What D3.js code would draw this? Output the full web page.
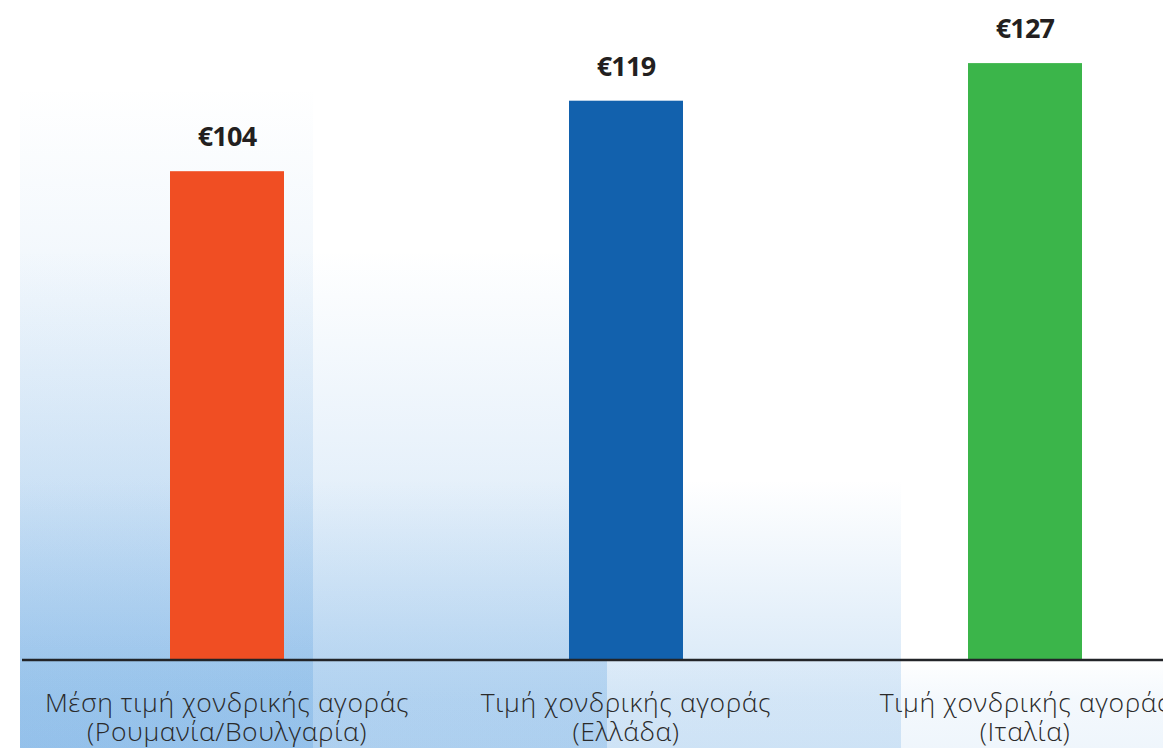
<!DOCTYPE html>
<html>
<head>
<meta charset="utf-8">
<script src="https://cdn.jsdelivr.net/npm/d3@7"></script>
<style>
  html, body { margin: 0; padding: 0; background: #ffffff; overflow: hidden; }
  svg { display: block; }
</style>
</head>
<body>
<svg id="chart" width="1163" height="748"></svg>
<script>
// ---- data ----
const categories = ["romBul", "greece", "italy"];
const labelLine1 = ["Μέση τιμή χονδρικής αγοράς", "Τιμή χονδρικής αγοράς", "Τιμή χονδρικής αγοράς"];
const labelLine2 = ["(Ρουμανία/Βουλγαρία)", "(Ελλάδα)", "(Ιταλία)"];
const values = [104, 119, 127];
const valueLabels = ["€104", "€119", "€127"];
const barColors = ["#f04e23", "#1261ad", "#3bb54a"];

// ---- setup ----
const W = 1163, H = 748;
const baseY = 660;
const svg = d3.select("#chart");
const defs = svg.append("defs");

// decorative background panels (layered gradients)
const panels = [
  { x0: 20, x1: 313, top: 87, mid: 0.23, end: 0.25 },
  { x0: 20, x1: 607, top: 250, mid: 0.25, end: 0.25 },
  { x0: 20, x1: 901, top: 480, mid: 0.19, end: 0.2 },
  { x0: 20, x1: 1163, top: 658, mid: 0.06, end: 0.09 }
];
panels.forEach((p, i) => {
  const g = defs.append("linearGradient")
    .attr("id", "pg" + i)
    .attr("gradientUnits", "userSpaceOnUse")
    .attr("x1", 0).attr("x2", 0)
    .attr("y1", p.top).attr("y2", H);
  const midOff = Math.max(0, Math.min(1, (baseY - p.top) / (H - p.top)));
  g.append("stop").attr("offset", 0).attr("stop-color", "#4a96dc").attr("stop-opacity", 0.0);
  if (midOff > 0.05) {
    g.append("stop").attr("offset", midOff).attr("stop-color", "#4a96dc").attr("stop-opacity", p.mid);
  } else {
    g.append("stop").attr("offset", 0.45).attr("stop-color", "#4a96dc").attr("stop-opacity", p.mid);
  }
  g.append("stop").attr("offset", 1).attr("stop-color", "#4a96dc").attr("stop-opacity", p.end);
  svg.append("rect")
    .attr("x", p.x0).attr("y", p.top)
    .attr("width", p.x1 - p.x0).attr("height", H - p.top)
    .attr("fill", "url(#pg" + i + ")");
});

// ---- scales ----
const x = d3.scaleBand()
  .domain(categories)
  .range([84.5, 1167.5])
  .paddingInner(0.7143)
  .paddingOuter(0.2143);

const y = d3.scaleLinear()
  .domain([0, 140])
  .range([baseY, 2]);

// ---- bars ----
svg.append("g").selectAll("rect")
  .data(categories)
  .join("rect")
  .attr("x", d => x(d))
  .attr("y", (d, i) => y(values[i]))
  .attr("width", x.bandwidth())
  .attr("height", (d, i) => baseY - y(values[i]))
  .attr("fill", (d, i) => barColors[i]);

// ---- value labels ----
svg.append("g").selectAll("text")
  .data(categories)
  .join("text")
  .attr("x", d => x(d) + x.bandwidth() / 2)
  .attr("y", (d, i) => y(values[i]) - 25)
  .attr("text-anchor", "middle")
  .attr("font-family", "'Open Sans', sans-serif")
  .attr("font-weight", 700)
  .attr("font-size", 27)
  .attr("letter-spacing", -0.8)
  .attr("fill", "#231f20")
  .text((d, i) => valueLabels[i]);

// ---- axis line ----
const axis = d3.axisBottom(x).tickSize(0).tickFormat("");
const axG = svg.append("g").attr("transform", `translate(0,${baseY})`).call(axis);
axG.select(".domain").remove();
svg.append("line")
  .attr("x1", 22).attr("x2", W)
  .attr("y1", baseY).attr("y2", baseY)
  .attr("stroke", "#222428")
  .attr("stroke-width", 2.6);

// ---- category labels ----
const lab = svg.append("g").selectAll("text")
  .data(categories)
  .join("text")
  .attr("text-anchor", "middle")
  .attr("font-family", "'Open Sans', sans-serif")
  .attr("font-weight", 300)
  .attr("font-size", 26.5)
  .attr("letter-spacing", 0.6)
  .attr("fill", "#2a2a2a");
lab.append("tspan")
  .attr("x", d => x(d) + x.bandwidth() / 2)
  .attr("y", 712)
  .text((d, i) => labelLine1[i]);
lab.append("tspan")
  .attr("x", d => x(d) + x.bandwidth() / 2)
  .attr("y", 741)
  .text((d, i) => labelLine2[i]);
</script>
</body>
</html>
